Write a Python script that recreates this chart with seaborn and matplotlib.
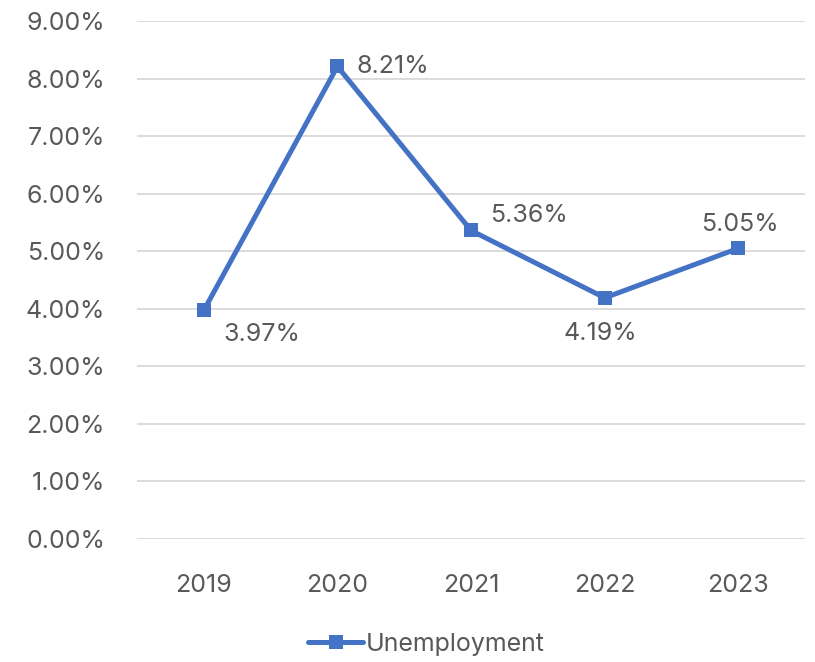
import pandas as pd
import seaborn as sns
import matplotlib.pyplot as plt
from matplotlib.ticker import PercentFormatter

years = ["2019", "2020", "2021", "2022", "2023"]
unemployment = [3.97, 8.21, 5.36, 4.19, 5.05]
label_texts = ["3.97%", "8.21%", "5.36%", "4.19%", "5.05%"]
# label offsets in points (dx, dy) and alignment, as Excel placed them
label_pos = [(14, -17, "left"), (14, 0, "left"), (14, 11, "left"), (-3, -26, "center"), (1, 17, "center")]


def main():
    sns.set_theme(style="white")
    plt.rcParams['font.family'] = ['Inter', 'DejaVu Sans']
    text_color = "#595959"
    blue = "#4472C4"

    data = pd.DataFrame({"year": years, "rate": unemployment})

    fig = plt.figure(figsize=(8.15, 6.62), dpi=100)
    ax = fig.add_axes([0.168, 0.1858, 0.82, 0.7825])

    sns.lineplot(ax=ax, x="year", y="rate", data=data, color=blue, linewidth=3.6,
                 marker="s", markersize=10.5, markeredgewidth=0, label="Unemployment")

    for i, (y, txt) in enumerate(zip(unemployment, label_texts)):
        dx, dy, ha = label_pos[i]
        ax.annotate(txt, (i, y), xytext=(dx, dy), textcoords="offset points",
                    ha=ha, va="center", fontsize=18, color=text_color)

    ax.set_ylim(0, 9)
    ax.set_xlim(-0.5, 4.5)
    ax.set_yticks(range(0, 10))
    ax.yaxis.set_major_formatter(PercentFormatter(decimals=2))
    ax.grid(axis="y", color="#D9D9D9", linewidth=1.3)
    ax.set_axisbelow(True)
    for side in ["top", "right", "left", "bottom"]:
        ax.spines[side].set_visible(False)
    ax.tick_params(axis="both", length=0, labelsize=18, labelcolor=text_color)
    ax.tick_params(axis="x", pad=25)
    ax.tick_params(axis="y", pad=23)
    ax.set_xlabel("")
    ax.set_ylabel("")

    ax.legend(loc="center", bbox_to_anchor=(0.523, 0.0265), bbox_transform=fig.transFigure,
              frameon=False, fontsize=18, handlelength=2.2, handletextpad=0.1,
              labelcolor=text_color)

    fig.savefig("out.png", dpi=100)


if __name__ == "__main__":
    main()
